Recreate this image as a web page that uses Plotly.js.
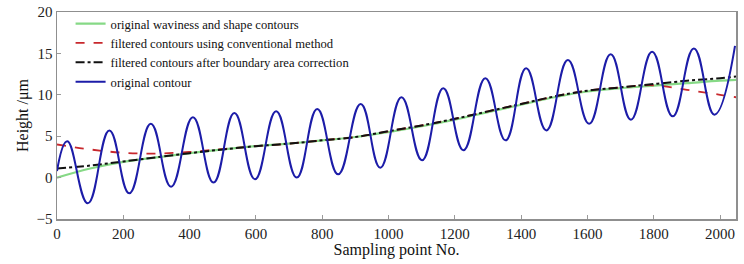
<!DOCTYPE html>
<html>
<head>
<meta charset="utf-8">
<script src="https://cdn.plot.ly/plotly-3.0.1.min.js"></script>
<style>html,body{margin:0;padding:0;background:#fff;}#chart{width:744px;height:264px;}</style>
</head>
<body>
<div id="chart"></div>
<script>
// Sampling point positions for the smooth contours
const trendX = [0, 100, 200, 300, 400, 500, 600, 700, 800, 900, 1000, 1100, 1200, 1300, 1400, 1500, 1600, 1700, 1800, 1900, 2000, 2048];
// original waviness and shape contours
const waviness = [0.0, 1.1, 1.9, 2.45, 2.95, 3.4, 3.8, 4.1, 4.5, 4.9, 5.5, 6.2, 7.0, 7.9, 8.8, 9.7, 10.4, 10.8, 11.1, 11.4, 11.7, 11.8];
// filtered contours using conventional method
const conventional = [4.0, 3.4, 3.0, 2.9, 3.1, 3.45, 3.8, 4.1, 4.5, 4.9, 5.6, 6.3, 7.1, 8.0, 8.9, 9.8, 10.5, 10.9, 11.15, 10.6, 10.0, 9.7];
// filtered contours after boundary area correction
const corrected = [1.1, 1.45, 1.95, 2.45, 2.95, 3.4, 3.8, 4.1, 4.5, 4.9, 5.6, 6.3, 7.1, 8.0, 8.9, 9.8, 10.5, 10.9, 11.3, 11.7, 12.0, 12.2];
// original contour: start point and its peaks/troughs
const origX = [0, 31, 93, 158, 218, 283, 344, 410, 472, 535, 597, 661, 723, 785, 848, 916, 975, 1039, 1101, 1165, 1226, 1292, 1353, 1415, 1476, 1541, 1605, 1670, 1731, 1795, 1857, 1921, 1983, 2045];
const origY = [0.8, 4.4, -3.1, 5.7, -1.9, 6.5, -1.1, 7.3, -0.6, 7.8, -0.2, 8.0, 0.0, 8.3, 0.4, 8.9, 1.2, 9.7, 2.1, 10.8, 3.3, 12.0, 4.5, 13.2, 5.7, 14.2, 6.5, 14.9, 7.0, 15.2, 7.4, 15.6, 7.6, 15.9];

const xTicks = [0, 200, 400, 600, 800, 1000, 1200, 1400, 1600, 1800, 2000];
const yTicks = [-5, 0, 5, 10, 15, 20];
const names = ['original waviness and shape contours', 'filtered contours using conventional method', 'filtered contours after boundary area correction', 'original contour'];

const FONT = 'Liberation Serif, Times New Roman, serif';

const traces = [
  {x: trendX, y: waviness, name: names[0], mode: 'lines', line: {color: '#86d986', width: 2.2, shape: 'spline'}},
  {x: trendX, y: conventional, name: names[1], mode: 'lines', line: {color: '#c8282d', width: 1.8, dash: 'dash', shape: 'spline'}},
  {x: trendX, y: corrected, name: names[2], mode: 'lines', line: {color: '#111111', width: 2, dash: 'dashdot', shape: 'spline'}},
  {x: origX, y: origY, name: names[3], mode: 'lines', line: {color: '#1c1ca8', width: 2, shape: 'spline', smoothing: 1.3}}
];

const axisCommon = {
  showgrid: false, zeroline: false, showline: true, mirror: true,
  linecolor: '#8f8f8f', linewidth: 1.5,
  ticks: 'inside', ticklen: 4, tickcolor: '#9a9a9a', tickwidth: 1,
  tickfont: {family: FONT, size: 15, color: '#222'}
};

const layout = {
  width: 744, height: 264,
  margin: {l: 57, r: 8, t: 12, b: 45},
  paper_bgcolor: '#fff', plot_bgcolor: '#fff',
  font: {family: FONT, color: '#111'},
  showlegend: true,
  legend: {x: 0.02, y: 1.015, xanchor: 'left', yanchor: 'top', bgcolor: 'rgba(0,0,0,0)', borderwidth: 0,
           font: {family: FONT, size: 12.6, color: '#111'}, tracegroupgap: 0},
  xaxis: Object.assign({}, axisCommon, {
    range: [0, 2048], tickvals: xTicks, ticktext: xTicks.map(String),
    title: {text: 'Sampling point No.', font: {family: FONT, size: 16, color: '#111'}, standoff: 2}
  }),
  yaxis: Object.assign({}, axisCommon, {
    range: [-5, 20], tickvals: yTicks,
    title: {text: 'Height /μm', font: {family: FONT, size: 16, color: '#111'}, standoff: 4}
  })
};

Plotly.newPlot('chart', traces, layout, {staticPlot: true, displayModeBar: false});
</script>
</body>
</html>
